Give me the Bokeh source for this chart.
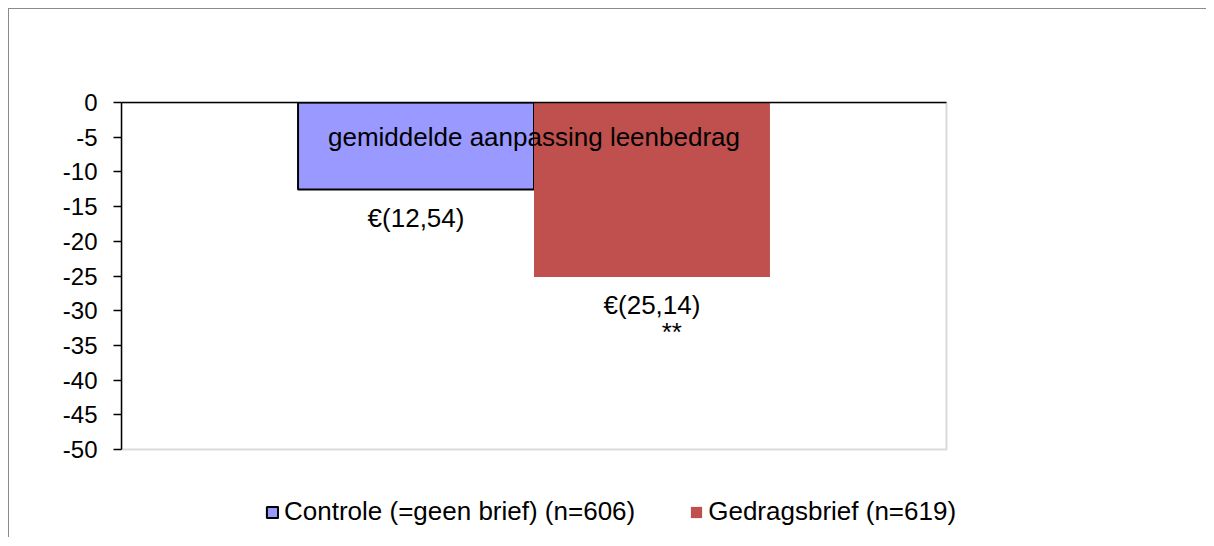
from bokeh.plotting import figure
from bokeh.models import (Range1d, FixedTicker, Legend, LegendItem, LinearAxis,
                          ColumnDataSource, BoxAnnotation)
from bokeh.core.properties import value
from bokeh.embed import file_html
from bokeh.resources import INLINE

# ---- data ----
categories = ["gemiddelde aanpassing leenbedrag"]
series_names = ["Controle (=geen brief) (n=606)", "Gedragsbrief (n=619)"]
series_values = [-12.54, -25.14]
series_colors = ["#9999FF", "#C0504D"]
data_labels = ["€(12,54)", "€(25,14)"]
significance = ["", "**"]
y_ticks = [0, -5, -10, -15, -20, -25, -30, -35, -40, -45, -50]

FONT = "Liberation Sans"
Y_MIN, Y_MAX = -50, 0
N_CAT = len(categories)

PLOT_W, EXTRA_W = 825, 100   # value-area width, extra room on the right for the legend
PLOT_H, LEGEND_H = 347, 80   # value-area height, extra room below for the legend
y_start = Y_MIN - (Y_MAX - Y_MIN) * LEGEND_H / PLOT_H
x_end = N_CAT * (PLOT_W + EXTRA_W) / PLOT_W

p = figure(x_range=Range1d(0, x_end), y_range=Range1d(y_start, Y_MAX),
           frame_width=PLOT_W + EXTRA_W, frame_height=PLOT_H + LEGEND_H,
           min_border_left=112, min_border_right=160,
           min_border_top=93, min_border_bottom=8,
           output_backend="svg", toolbar_location=None)
p.styles = {"margin-left": "8px", "margin-top": "8px",
            "border-left": "1px solid #8a8a8a", "border-top": "1px solid #8a8a8a"}

p.xgrid.visible = False
p.ygrid.visible = False
p.xaxis.visible = False
p.background_fill_color = "white"
p.border_fill_color = "white"
p.outline_line_color = None

# plot-area border (grey)
p.add_layout(BoxAnnotation(left=0, right=N_CAT, bottom=Y_MIN, top=Y_MAX, fill_alpha=0,
                           line_color="#878787", line_width=2, level="underlay"))

# category axis line at value 0 (top of the plot area)
xa = LinearAxis(bounds=(0, N_CAT), ticker=FixedTicker(ticks=[]),
                axis_line_color="black", axis_line_width=1.5,
                major_tick_line_color=None, minor_tick_line_color=None,
                major_label_text_font_size="0px")
p.add_layout(xa, "above")

# y axis
ya = p.yaxis[0]
ya.bounds = (Y_MIN, Y_MAX)
ya.ticker = FixedTicker(ticks=y_ticks)
ya.major_label_overrides = {t: str(t) for t in y_ticks}
ya.axis_line_color = "black"
ya.axis_line_width = 1.5
ya.major_tick_line_color = "black"
ya.major_tick_line_width = 1.5
ya.major_tick_out = 8
ya.major_tick_in = 0
ya.minor_tick_line_color = None
ya.major_label_standoff = 16
ya.major_label_text_font = FONT
ya.major_label_text_font_size = "24px"
ya.major_label_text_color = "black"

cat_x = [i + 0.5 for i in range(N_CAT)]
offsets = [-0.143, 0.143]
bar_w = 0.286
renderers = []
for i in range(len(series_names)):
    bx = cat_x[0] + offsets[i]
    src = ColumnDataSource(dict(x=[bx], sx=[bx + 0.024], top=[series_values[i]],
                                lab=[data_labels[i]], sig=[significance[i]],
                                ly=[series_values[i] - 4.1],
                                sy=[series_values[i] - 8.0]))
    r = p.vbar(x="x", top="top", bottom=0, width=bar_w, source=src,
               fill_color=series_colors[i],
               line_color="black" if i == 0 else None, line_width=2)
    renderers.append(r)
    p.text(x="x", y="ly", text="lab", source=src,
           text_font=value(FONT), text_font_size="26px", text_color="black",
           text_align="center", text_baseline="middle")
    p.text(x="sx", y="sy", text="sig", source=src,
           text_font=value(FONT), text_font_size="26px", text_color="black",
           text_align="center", text_baseline="middle")

# category label
p.text(x=cat_x, y=[-5.0], text=categories, text_font=value(FONT), text_font_size="26px",
       text_color="black", text_align="center", text_baseline="middle")

legend = Legend(items=[LegendItem(label=series_names[i], renderers=[renderers[i]])
                       for i in range(len(series_names))],
                orientation="horizontal", location=(144, 2),
                glyph_width=14, glyph_height=14, label_standoff=5, spacing=54,
                padding=0, margin=0, border_line_alpha=0, background_fill_alpha=0,
                label_text_font=FONT, label_text_font_size="26px", label_text_color="black")
p.add_layout(legend, "center")

open("out.html", "w").write(file_html(p, INLINE))
